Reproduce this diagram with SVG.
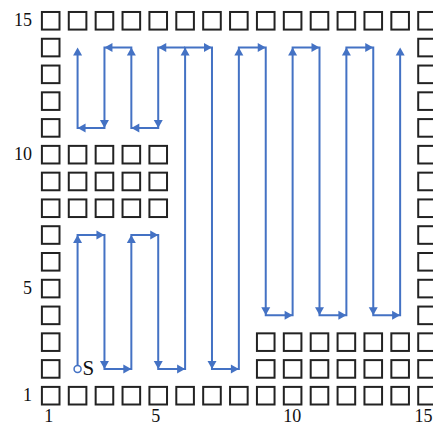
<svg xmlns="http://www.w3.org/2000/svg" xmlns:xlink="http://www.w3.org/1999/xlink" width="433" height="428" viewBox="0 0 433 428">
<style>
.b{fill:#fff;stroke:#222;stroke-width:2}
.p{fill:none;stroke:#4472C4;stroke-width:2;stroke-linejoin:miter}
.ah{fill:#4472C4}
.t{font-family:"Liberation Serif","Times New Roman",serif;font-size:18px;fill:#111}
.s{font-family:"Liberation Serif","Times New Roman",serif;font-size:21px;fill:#111}
</style>
<defs>
<polygon id="ah" class="ah" points="0,0 -8,-4.5 -8,4.5"/>
</defs>
<rect width="433" height="428" fill="#fff"/>
<g id="row15">
<rect id="b1_15" class="b" x="41.9" y="11.98" width="17.6" height="17.6"/>
<rect id="b2_15" class="b" x="68.78" y="11.98" width="17.6" height="17.6"/>
<rect id="b3_15" class="b" x="95.66" y="11.98" width="17.6" height="17.6"/>
<rect id="b4_15" class="b" x="122.54" y="11.98" width="17.6" height="17.6"/>
<rect id="b5_15" class="b" x="149.42" y="11.98" width="17.6" height="17.6"/>
<rect id="b6_15" class="b" x="176.3" y="11.98" width="17.6" height="17.6"/>
<rect id="b7_15" class="b" x="203.18" y="11.98" width="17.6" height="17.6"/>
<rect id="b8_15" class="b" x="230.06" y="11.98" width="17.6" height="17.6"/>
<rect id="b9_15" class="b" x="256.94" y="11.98" width="17.6" height="17.6"/>
<rect id="b10_15" class="b" x="283.82" y="11.98" width="17.6" height="17.6"/>
<rect id="b11_15" class="b" x="310.7" y="11.98" width="17.6" height="17.6"/>
<rect id="b12_15" class="b" x="337.58" y="11.98" width="17.6" height="17.6"/>
<rect id="b13_15" class="b" x="364.46" y="11.98" width="17.6" height="17.6"/>
<rect id="b14_15" class="b" x="391.34" y="11.98" width="17.6" height="17.6"/>
<rect id="b15_15" class="b" x="418.22" y="11.98" width="17.6" height="17.6"/>
</g>
<g id="row1">
<rect id="b1_1" class="b" x="41.9" y="386.9" width="17.6" height="17.6"/>
<rect id="b2_1" class="b" x="68.78" y="386.9" width="17.6" height="17.6"/>
<rect id="b3_1" class="b" x="95.66" y="386.9" width="17.6" height="17.6"/>
<rect id="b4_1" class="b" x="122.54" y="386.9" width="17.6" height="17.6"/>
<rect id="b5_1" class="b" x="149.42" y="386.9" width="17.6" height="17.6"/>
<rect id="b6_1" class="b" x="176.3" y="386.9" width="17.6" height="17.6"/>
<rect id="b7_1" class="b" x="203.18" y="386.9" width="17.6" height="17.6"/>
<rect id="b8_1" class="b" x="230.06" y="386.9" width="17.6" height="17.6"/>
<rect id="b9_1" class="b" x="256.94" y="386.9" width="17.6" height="17.6"/>
<rect id="b10_1" class="b" x="283.82" y="386.9" width="17.6" height="17.6"/>
<rect id="b11_1" class="b" x="310.7" y="386.9" width="17.6" height="17.6"/>
<rect id="b12_1" class="b" x="337.58" y="386.9" width="17.6" height="17.6"/>
<rect id="b13_1" class="b" x="364.46" y="386.9" width="17.6" height="17.6"/>
<rect id="b14_1" class="b" x="391.34" y="386.9" width="17.6" height="17.6"/>
<rect id="b15_1" class="b" x="418.22" y="386.9" width="17.6" height="17.6"/>
</g>
<g id="col1">
<rect id="b1_2" class="b" x="41.9" y="360.12" width="17.6" height="17.6"/>
<rect id="b1_3" class="b" x="41.9" y="333.34" width="17.6" height="17.6"/>
<rect id="b1_4" class="b" x="41.9" y="306.56" width="17.6" height="17.6"/>
<rect id="b1_5" class="b" x="41.9" y="279.78" width="17.6" height="17.6"/>
<rect id="b1_6" class="b" x="41.9" y="253" width="17.6" height="17.6"/>
<rect id="b1_7" class="b" x="41.9" y="226.22" width="17.6" height="17.6"/>
<rect id="b1_8" class="b" x="41.9" y="199.44" width="17.6" height="17.6"/>
<rect id="b1_9" class="b" x="41.9" y="172.66" width="17.6" height="17.6"/>
<rect id="b1_10" class="b" x="41.9" y="145.88" width="17.6" height="17.6"/>
<rect id="b1_11" class="b" x="41.9" y="119.1" width="17.6" height="17.6"/>
<rect id="b1_12" class="b" x="41.9" y="92.32" width="17.6" height="17.6"/>
<rect id="b1_13" class="b" x="41.9" y="65.54" width="17.6" height="17.6"/>
<rect id="b1_14" class="b" x="41.9" y="38.76" width="17.6" height="17.6"/>
</g>
<g id="col15">
<rect id="b15_2" class="b" x="418.22" y="360.12" width="17.6" height="17.6"/>
<rect id="b15_3" class="b" x="418.22" y="333.34" width="17.6" height="17.6"/>
<rect id="b15_4" class="b" x="418.22" y="306.56" width="17.6" height="17.6"/>
<rect id="b15_5" class="b" x="418.22" y="279.78" width="17.6" height="17.6"/>
<rect id="b15_6" class="b" x="418.22" y="253" width="17.6" height="17.6"/>
<rect id="b15_7" class="b" x="418.22" y="226.22" width="17.6" height="17.6"/>
<rect id="b15_8" class="b" x="418.22" y="199.44" width="17.6" height="17.6"/>
<rect id="b15_9" class="b" x="418.22" y="172.66" width="17.6" height="17.6"/>
<rect id="b15_10" class="b" x="418.22" y="145.88" width="17.6" height="17.6"/>
<rect id="b15_11" class="b" x="418.22" y="119.1" width="17.6" height="17.6"/>
<rect id="b15_12" class="b" x="418.22" y="92.32" width="17.6" height="17.6"/>
<rect id="b15_13" class="b" x="418.22" y="65.54" width="17.6" height="17.6"/>
<rect id="b15_14" class="b" x="418.22" y="38.76" width="17.6" height="17.6"/>
</g>
<g id="block-left">
<rect id="b2_10" class="b" x="68.78" y="145.88" width="17.6" height="17.6"/>
<rect id="b3_10" class="b" x="95.66" y="145.88" width="17.6" height="17.6"/>
<rect id="b4_10" class="b" x="122.54" y="145.88" width="17.6" height="17.6"/>
<rect id="b5_10" class="b" x="149.42" y="145.88" width="17.6" height="17.6"/>
<rect id="b2_9" class="b" x="68.78" y="172.66" width="17.6" height="17.6"/>
<rect id="b3_9" class="b" x="95.66" y="172.66" width="17.6" height="17.6"/>
<rect id="b4_9" class="b" x="122.54" y="172.66" width="17.6" height="17.6"/>
<rect id="b5_9" class="b" x="149.42" y="172.66" width="17.6" height="17.6"/>
<rect id="b2_8" class="b" x="68.78" y="199.44" width="17.6" height="17.6"/>
<rect id="b3_8" class="b" x="95.66" y="199.44" width="17.6" height="17.6"/>
<rect id="b4_8" class="b" x="122.54" y="199.44" width="17.6" height="17.6"/>
<rect id="b5_8" class="b" x="149.42" y="199.44" width="17.6" height="17.6"/>
</g>
<g id="block-right">
<rect id="b9_3" class="b" x="256.94" y="333.34" width="17.6" height="17.6"/>
<rect id="b10_3" class="b" x="283.82" y="333.34" width="17.6" height="17.6"/>
<rect id="b11_3" class="b" x="310.7" y="333.34" width="17.6" height="17.6"/>
<rect id="b12_3" class="b" x="337.58" y="333.34" width="17.6" height="17.6"/>
<rect id="b13_3" class="b" x="364.46" y="333.34" width="17.6" height="17.6"/>
<rect id="b14_3" class="b" x="391.34" y="333.34" width="17.6" height="17.6"/>
<rect id="b9_2" class="b" x="256.94" y="360.12" width="17.6" height="17.6"/>
<rect id="b10_2" class="b" x="283.82" y="360.12" width="17.6" height="17.6"/>
<rect id="b11_2" class="b" x="310.7" y="360.12" width="17.6" height="17.6"/>
<rect id="b12_2" class="b" x="337.58" y="360.12" width="17.6" height="17.6"/>
<rect id="b13_2" class="b" x="364.46" y="360.12" width="17.6" height="17.6"/>
<rect id="b14_2" class="b" x="391.34" y="360.12" width="17.6" height="17.6"/>
</g>
<g id="labels" class="t">
<text x="32" y="26.3" text-anchor="end">15</text>
<text x="32" y="160.2" text-anchor="end">10</text>
<text x="32" y="294.1" text-anchor="end">5</text>
<text x="32" y="401.2" text-anchor="end">1</text>
<text x="48.7" y="421.5" text-anchor="middle">1</text>
<text x="155.8" y="421.5" text-anchor="middle">5</text>
<text x="292.3" y="421.5" text-anchor="middle">10</text>
<text x="432.5" y="421.5" text-anchor="end">15</text>
</g>
<g id="connectors">
<path class="p" d="M77.58,368.92 V235.02 H104.46 V368.92 H131.34 V235.02 H158.22 V368.92 H185.1 V47.56 H211.98 V368.92 H238.86 V47.56 H265.74 V315.36 H292.62 V47.56 H319.5 V315.36 H346.38 V47.56 H373.26 V315.36 H400.14 V51.5"/>
<path class="p" d="M185.1,47.56 H158.22 V127.9 H131.34 V47.56 H104.46 V127.9 H77.58 V51.5"/>
<use xlink:href="#ah" transform="translate(77.58,235.02) rotate(-90)"/>
<use xlink:href="#ah" transform="translate(104.46,235.02)"/>
<use xlink:href="#ah" transform="translate(104.46,368.92) rotate(90)"/>
<use xlink:href="#ah" transform="translate(131.34,368.92)"/>
<use xlink:href="#ah" transform="translate(131.34,235.02) rotate(-90)"/>
<use xlink:href="#ah" transform="translate(158.22,235.02)"/>
<use xlink:href="#ah" transform="translate(158.22,368.92) rotate(90)"/>
<use xlink:href="#ah" transform="translate(185.1,368.92)"/>
<use xlink:href="#ah" transform="translate(185.1,47.56) rotate(-90)"/>
<use xlink:href="#ah" transform="translate(211.98,47.56)"/>
<use xlink:href="#ah" transform="translate(211.98,368.92) rotate(90)"/>
<use xlink:href="#ah" transform="translate(238.86,368.92)"/>
<use xlink:href="#ah" transform="translate(238.86,47.56) rotate(-90)"/>
<use xlink:href="#ah" transform="translate(265.74,47.56)"/>
<use xlink:href="#ah" transform="translate(265.74,315.36) rotate(90)"/>
<use xlink:href="#ah" transform="translate(292.62,315.36)"/>
<use xlink:href="#ah" transform="translate(292.62,47.56) rotate(-90)"/>
<use xlink:href="#ah" transform="translate(319.5,47.56)"/>
<use xlink:href="#ah" transform="translate(319.5,315.36) rotate(90)"/>
<use xlink:href="#ah" transform="translate(346.38,315.36)"/>
<use xlink:href="#ah" transform="translate(346.38,47.56) rotate(-90)"/>
<use xlink:href="#ah" transform="translate(373.26,47.56)"/>
<use xlink:href="#ah" transform="translate(373.26,315.36) rotate(90)"/>
<use xlink:href="#ah" transform="translate(400.14,315.36)"/>
<use xlink:href="#ah" transform="translate(400.14,47.56) rotate(-90)"/>
<use xlink:href="#ah" transform="translate(158.22,47.56) rotate(180)"/>
<use xlink:href="#ah" transform="translate(158.22,127.9) rotate(90)"/>
<use xlink:href="#ah" transform="translate(131.34,127.9) rotate(180)"/>
<use xlink:href="#ah" transform="translate(131.34,47.56) rotate(-90)"/>
<use xlink:href="#ah" transform="translate(104.46,47.56) rotate(180)"/>
<use xlink:href="#ah" transform="translate(104.46,127.9) rotate(90)"/>
<use xlink:href="#ah" transform="translate(77.58,127.9) rotate(180)"/>
<use xlink:href="#ah" transform="translate(77.58,47.56) rotate(-90)"/>
</g>
<g id="start">
<circle cx="77.58" cy="368.92" r="3.5" fill="#fff" stroke="#4472C4" stroke-width="1.5"/>
<text class="s" x="82.5" y="374.5">S</text>
</g>
</svg>
